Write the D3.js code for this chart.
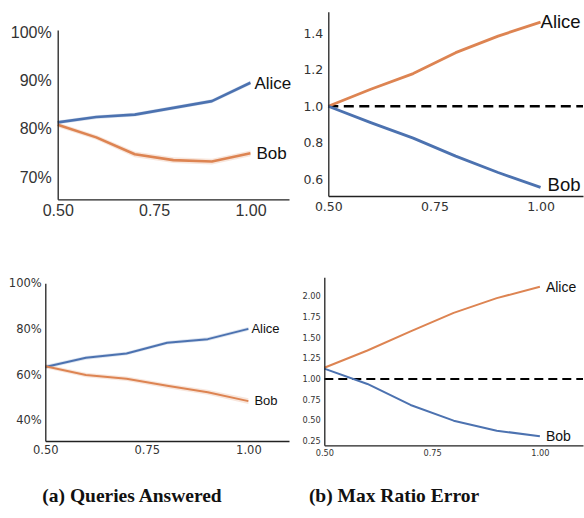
<!DOCTYPE html>
<html>
<head>
<meta charset="utf-8">
<script src="https://cdn.jsdelivr.net/npm/d3@7"></script>
<style>
  body { margin: 0; background: #fff; }
  svg { display: block; }
</style>
</head>
<body>
<svg width="584" height="518"></svg>
<script>
// shared x values
var xs = [0.5, 0.6, 0.7, 0.8, 0.9, 1.0];
var xTicks = [0.5, 0.75, 1.0];

// (a) top: queries answered (%)
var qaTopAlice = [81.3, 82.4, 82.9, 84.3, 85.7, 89.5];
var qaTopBob   = [80.8, 78.2, 74.7, 73.5, 73.2, 74.9];
var qaTopAliceCI = [0.4, 0.4, 0.4, 0.4, 0.4, 0.4];
var qaTopBobCI   = [0.5, 0.5, 0.6, 0.6, 0.6, 0.6];
var qaTopTicks = [70, 80, 90, 100];

// (b) top: max ratio error
var mrTopAlice = [1.0, 1.093, 1.179, 1.294, 1.385, 1.462];
var mrTopBob   = [1.0, 0.91, 0.825, 0.726, 0.636, 0.554];
var mrTopTicks = [0.6, 0.8, 1.0, 1.2, 1.4];

// (a) bottom
var qaBotAlice = [63.3, 67.3, 69.2, 73.9, 75.5, 80.0];
var qaBotBob   = [63.6, 59.8, 58.1, 55.0, 52.2, 48.3];
var qaBotAliceCI = [0.8, 0.8, 0.8, 0.8, 0.8, 0.8];
var qaBotBobCI   = [0.9, 1.0, 1.0, 1.0, 1.1, 1.3];
var qaBotTicks = [40, 60, 80, 100];

// (b) bottom
var mrBotAlice = [1.136, 1.345, 1.575, 1.80, 1.978, 2.115];
var mrBotBob   = [1.125, 0.94, 0.686, 0.496, 0.375, 0.307];
var mrBotTicks = [0.25, 0.5, 0.75, 1.0, 1.25, 1.5, 1.75, 2.0];

var blue = "#4c72b0", orange = "#dd8452";

var svg = d3.select("svg");

function drawPanel(p) {
    var x = d3.scaleLinear().domain([0.5, 1.1]).range([p.left, p.right]);
    var y = d3.scaleLinear().domain(p.ydom).range([p.bottom, p.top]);
    var g = svg.append("g");

    // confidence bands
    p.series.forEach(function (s) {
        if (!s.ci) return;
        var area = d3.area()
            .x(function (d, i) { return x(xs[i]); })
            .y0(function (d, i) { return y(d - s.ci[i]); })
            .y1(function (d, i) { return y(d + s.ci[i]); });
        g.append("path")
            .attr("d", area(s.values))
            .attr("fill", s.color)
            .attr("opacity", 0.2);
    });

    if (p.ref != null) {
        g.append("line")
            .attr("x1", x(0.5)).attr("x2", x(1.1))
            .attr("y1", y(p.ref)).attr("y2", y(p.ref))
            .attr("stroke", "#000")
            .attr("stroke-width", p.refWidth)
            .attr("stroke-dasharray", p.dash);
    }

    var line = d3.line()
        .x(function (d, i) { return x(xs[i]); })
        .y(function (d) { return y(d); });

    p.series.forEach(function (s) {
        g.append("path")
            .attr("d", line(s.values))
            .attr("fill", "none")
            .attr("stroke", s.color)
            .attr("stroke-width", p.lineWidth)
            .attr("stroke-linejoin", "round");
        var dx = s.labelDx != null ? s.labelDx : p.labelDx;
        g.append("text")
            .attr("x", x(1.0) + dx)
            .attr("y", y(s.values[s.values.length - 1]) + (s.labelDy || 0))
            .attr("dy", "0.35em")
            .attr("font-family", "Liberation Sans, Arial, sans-serif")
            .attr("font-size", p.labelSize)
            .attr("fill", "#111")
            .text(s.name);
    });

    var yAxis = d3.axisLeft(y).tickValues(p.yticks).tickFormat(p.yfmt)
        .tickSize(0).tickPadding(p.ypad);
    var xAxis = d3.axisBottom(x).tickValues(xTicks).tickFormat(d3.format(".2f"))
        .tickSize(0).tickPadding(p.xpad);

    var ya = g.append("g").attr("transform", "translate(" + p.left + ",0)").call(yAxis);
    var xa = g.append("g").attr("transform", "translate(0," + p.bottom + ")").call(xAxis);

    [ya, xa].forEach(function (a) {
        a.select(".domain").attr("stroke", "#222").attr("stroke-width", 1.3);
        a.selectAll("text")
            .attr("font-family", p.tickFont)
            .attr("font-size", p.tickSize)
            .attr("fill", "#333");
    });
}

var pct = function (d) { return d + "%"; };

drawPanel({
    left: 57.7, right: 289, top: 30, bottom: 199.3,
    ydom: [65.4, 100.4], yticks: qaTopTicks, yfmt: pct,
    tickFont: "Liberation Sans, Arial, sans-serif", tickSize: 16, ypad: 6, xpad: 5,
    lineWidth: 2.6, labelSize: 17, labelDx: 4,
    series: [
        { name: "Alice", values: qaTopAlice, ci: qaTopAliceCI, color: blue },
        { name: "Bob", values: qaTopBob, ci: qaTopBobCI, color: orange, labelDx: 6 }
    ]
});

drawPanel({
    left: 328.3, right: 583, top: 11.7, bottom: 196,
    ydom: [0.507, 1.519], yticks: mrTopTicks, yfmt: d3.format(".1f"),
    tickFont: "DejaVu Sans, sans-serif", tickSize: 12.5, ypad: 5, xpad: 6,
    lineWidth: 2.8, labelSize: 18.5, labelDx: 0,
    ref: 1.0, refWidth: 2.6, dash: "10,5.5",
    series: [
        { name: "Alice", values: mrTopAlice, color: orange, labelDy: -1 },
        { name: "Bob", values: mrTopBob, color: blue, labelDx: 7, labelDy: -3 }
    ]
});

drawPanel({
    left: 45.3, right: 289, top: 283.3, bottom: 441,
    ydom: [30.8, 100], yticks: qaBotTicks, yfmt: pct,
    tickFont: "DejaVu Sans, sans-serif", tickSize: 11.5, ypad: 3.6, xpad: 5,
    lineWidth: 2, labelSize: 13, labelDx: 3,
    series: [
        { name: "Alice", values: qaBotAlice, ci: qaBotAliceCI, color: blue },
        { name: "Bob", values: qaBotBob, ci: qaBotBobCI, color: orange, labelDx: 6, labelDy: -1 }
    ]
});

drawPanel({
    left: 324.3, right: 583, top: 277.3, bottom: 445.3,
    ydom: [0.198, 2.23], yticks: mrBotTicks, yfmt: d3.format(".2f"),
    tickFont: "DejaVu Sans, sans-serif", tickSize: 8.2, ypad: 3.6, xpad: 5,
    lineWidth: 2, labelSize: 14, labelDx: 6,
    ref: 1.0, refWidth: 2, dash: "9,5",
    series: [
        { name: "Alice", values: mrBotAlice, color: orange },
        { name: "Bob", values: mrBotBob, color: blue }
    ]
});

// captions
svg.append("text").attr("x", 132).attr("y", 502).attr("text-anchor", "middle")
    .attr("font-family", "Liberation Serif, serif").attr("font-weight", "bold")
    .attr("font-size", 19.5).attr("fill", "#111").text("(a) Queries Answered");
svg.append("text").attr("x", 394).attr("y", 502).attr("text-anchor", "middle")
    .attr("font-family", "Liberation Serif, serif").attr("font-weight", "bold")
    .attr("font-size", 19.5).attr("fill", "#111").text("(b) Max Ratio Error");
</script>
</body>
</html>
